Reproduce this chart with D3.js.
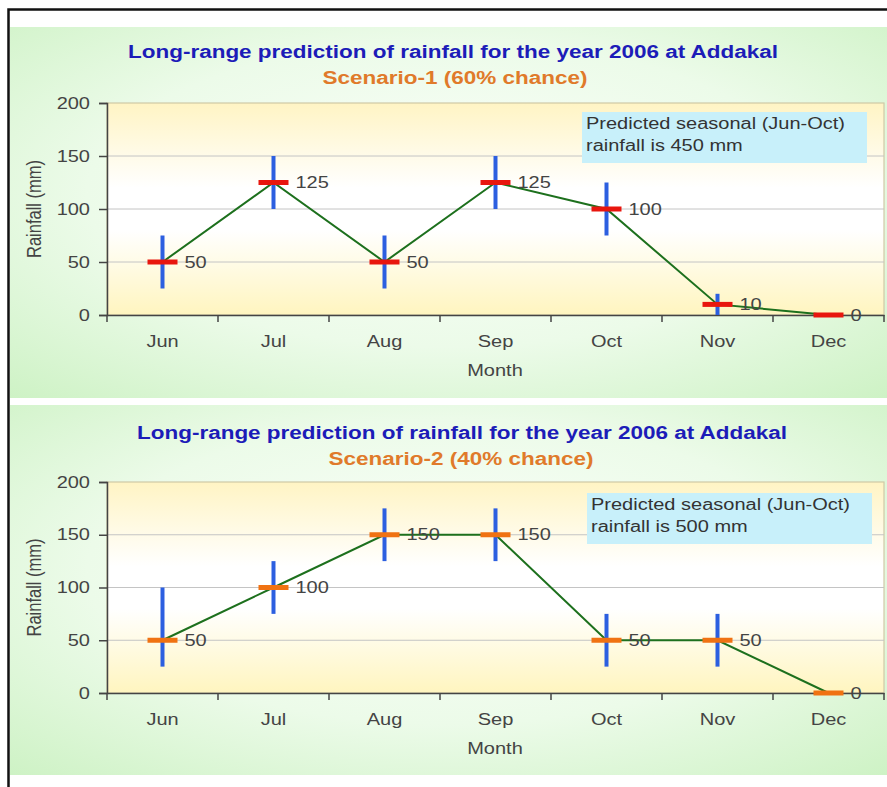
<!DOCTYPE html>
<html><head><meta charset="utf-8">
<script src="https://cdn.jsdelivr.net/npm/d3@7"></script>
<style>body{margin:0;background:#fff}svg{display:block}text{font-family:"Liberation Sans",Arial,sans-serif}</style>
</head><body>
<svg id="c" width="887" height="787"></svg>
<script>
const months = ["Jun","Jul","Aug","Sep","Oct","Nov","Dec"];
const yTicks = [0,50,100,150,200];
const title = "Long-range prediction of rainfall for the year 2006 at Addakal";
const subtitles = ["Scenario-1 (60% chance)","Scenario-2 (40% chance)"];
const values1 = [50,125,50,125,100,10,0];
const low1 = [25,100,25,100,75,0,0];
const high1 = [75,150,75,150,125,20,0];
const values2 = [50,100,150,150,50,50,0];
const low2 = [25,75,125,125,25,25,0];
const high2 = [100,125,175,175,75,75,0];
const notes1 = ["Predicted seasonal (Jun-Oct)","rainfall is 450 mm"];
const notes2 = ["Predicted seasonal (Jun-Oct)","rainfall is 500 mm"];
const markerColors = ["#e8160e","#f07212"];

const SX = 1.25; // horizontal text stretch seen in the reference
const svg = d3.select("#c");
const defs = svg.append("defs");
const rg = defs.append("radialGradient").attr("id","pbg").attr("cx","50%").attr("cy","45%").attr("r","75%");
rg.append("stop").attr("offset","0%").attr("stop-color","#fbfffa");
rg.append("stop").attr("offset","55%").attr("stop-color","#ecfbe9");
rg.append("stop").attr("offset","100%").attr("stop-color","#cdf2c4");
const lg = defs.append("linearGradient").attr("id","plotbg").attr("x1",0).attr("y1",0).attr("x2",0).attr("y2",1);
lg.append("stop").attr("offset","0%").attr("stop-color","#fff4c4");
lg.append("stop").attr("offset","40%").attr("stop-color","#ffffff");
lg.append("stop").attr("offset","60%").attr("stop-color","#ffffff");
lg.append("stop").attr("offset","100%").attr("stop-color","#fff5bf");

function stext(g, x, y, str, size, opts={}) {
  const t = g.append("text").attr("transform",`translate(${x},${y}) scale(${SX},1)`)
    .attr("font-size",size).attr("fill",opts.fill||"#444")
    .attr("text-anchor",opts.anchor||"start").text(str);
  if (opts.bold) t.attr("font-weight","bold");
  if (opts.dy) t.attr("dy",opts.dy);
  return t;
}

// outer border
svg.append("rect").attr("x",8.5).attr("y",9.5).attr("width",900).attr("height",800)
  .attr("fill","none").attr("stroke","#111").attr("stroke-width",2.5);

const panels = [
  {bgTop:27,bgBot:398,plotTop:103,plotBot:315,titleY:58,subY:84,titleX:453,subX:455,xlabY:347,monthY:376,
   box:[582,112,285,51],notes:notes1,vals:values1,lo:low1,hi:high1,sub:subtitles[0],mc:markerColors[0]},
  {bgTop:405,bgBot:775,plotTop:482,plotBot:693,titleY:439,subY:465,titleX:462,subX:461,xlabY:725,monthY:754,
   box:[587,493,285,51],notes:notes2,vals:values2,lo:low2,hi:high2,sub:subtitles[1],mc:markerColors[1]}
];
const plotL = 107, plotR = 884;

panels.forEach(p => {
  const g = svg.append("g");
  g.append("rect").attr("x",10).attr("y",p.bgTop).attr("width",877).attr("height",p.bgBot-p.bgTop).attr("fill","url(#pbg)");
  const x = d3.scaleBand().domain(months).range([plotL,plotR]).padding(0);
  const y = d3.scaleLinear().domain([0,200]).range([p.plotBot,p.plotTop]);
  g.append("rect").attr("x",plotL).attr("y",p.plotTop).attr("width",plotR-plotL).attr("height",p.plotBot-p.plotTop)
    .attr("fill","url(#plotbg)").attr("stroke","#cfc9a6").attr("stroke-width",1.2);
  // grid
  g.selectAll(".grid").data(yTicks.filter(t=>t>0&&t<200)).join("line")
    .attr("x1",plotL).attr("x2",plotR).attr("y1",d=>y(d)).attr("y2",d=>y(d))
    .attr("stroke","#c4c4c4").attr("stroke-width",1);
  // y axis
  const ya = g.append("g").attr("transform",`translate(${plotL},0)`)
    .call(d3.axisLeft(y).tickValues(yTicks).tickSize(8).tickPadding(6));
  ya.select(".domain").attr("stroke","#444").attr("stroke-width",1.5);
  ya.selectAll(".tick line").attr("stroke","#444").attr("stroke-width",1.5);
  ya.selectAll("text").attr("x",0).attr("transform",`translate(-17,0) scale(${SX},1)`)
    .attr("font-size",16).attr("fill","#444").style("font-family","Liberation Sans, Arial, sans-serif");
  // x axis
  const xa = g.append("g").attr("transform",`translate(0,${p.plotBot})`)
    .call(d3.axisBottom(x).tickSize(0).tickFormat(""));
  xa.select(".domain").attr("stroke","#444").attr("stroke-width",1.5);
  const bounds = months.map(m=>x(m)).concat([plotR]);
  g.selectAll(".xt").data(bounds).join("line")
    .attr("x1",d=>d).attr("x2",d=>d).attr("y1",p.plotBot).attr("y2",p.plotBot+7)
    .attr("stroke","#444").attr("stroke-width",1.5);
  months.forEach(m => stext(g, x(m)+x.bandwidth()/2, p.xlabY, m, 16, {anchor:"middle"}));
  stext(g, 495, p.monthY, "Month", 16, {anchor:"middle"});
  g.append("text").attr("transform",`translate(41,${(p.plotTop+p.plotBot)/2}) scale(${SX},1) rotate(-90)`)
    .attr("text-anchor","middle").attr("font-size",16.5).attr("fill","#444").text("Rainfall (mm)");
  // titles
  stext(g, p.titleX, p.titleY, title, 18, {anchor:"middle", bold:true, fill:"#1c1cb8"});
  stext(g, p.subX, p.subY, p.sub, 18, {anchor:"middle", bold:true, fill:"#e07a2a"});
  // note box
  g.append("rect").attr("x",p.box[0]).attr("y",p.box[1]).attr("width",p.box[2]).attr("height",p.box[3]).attr("fill","#c8f0fa");
  p.notes.forEach((s,i) => stext(g, p.box[0]+4, p.box[1]+17+i*22, s, 16, {fill:"#333"}));
  const cx = m => x(m)+x.bandwidth()/2;
  // line
  g.append("path").datum(p.vals).attr("fill","none").attr("stroke","#1d701d").attr("stroke-width",2)
    .attr("d",d3.line().x((d,i)=>cx(months[i])).y(d=>y(d)));
  // error bars
  g.selectAll(".eb").data(months.filter((m,i)=>p.hi[i]>p.lo[i])).join("line")
    .attr("x1",cx).attr("x2",cx)
    .attr("y1",m=>y(p.lo[months.indexOf(m)])).attr("y2",m=>y(p.hi[months.indexOf(m)]))
    .attr("stroke","#2c5fe0").attr("stroke-width",4);
  // markers
  g.selectAll(".mk").data(months).join("rect")
    .attr("x",m=>cx(m)-15).attr("y",(m,i)=>y(p.vals[i])-2.5).attr("width",30).attr("height",5)
    .attr("fill",p.mc);
  // value labels
  months.forEach((m,i) => stext(g, cx(m)+22, y(p.vals[i]), p.vals[i], 16, {dy:"0.35em"}));
});
</script>
</body></html>
